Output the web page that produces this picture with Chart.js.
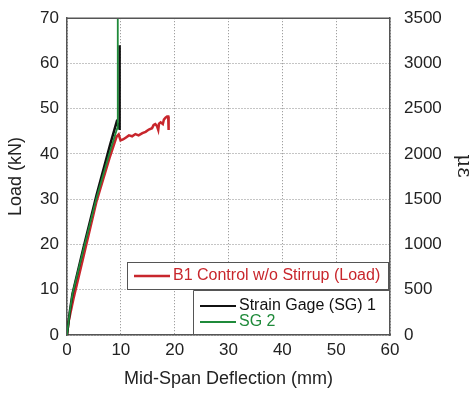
<!DOCTYPE html>
<html>
<head>
<meta charset="utf-8">
<script src="https://cdn.jsdelivr.net/npm/chart.js@4/dist/chart.umd.min.js"></script>
<style>
  html, body { margin: 0; padding: 0; background: #fff; }
  #wrap { width: 470px; height: 394px; }
</style>
</head>
<body>
<div id="wrap"><canvas id="c" width="470" height="394"></canvas></div>
<script>
// ===== data =====
const loadDefl = [0, 0.3, 1.2, 3.0, 5.5, 8.0, 9.2, 9.6, 9.95, 10.4, 10.9, 11.5, 12.1, 12.7, 13.3, 14.0, 14.6, 15.2, 15.8, 16.1, 16.4, 16.7, 16.95, 17.1, 17.4, 17.8, 18.0, 18.3, 18.6, 18.8, 18.9, 18.85];
const loadKN   = [0, 3.0, 8.0, 17.0, 29.6, 39.5, 43.8, 44.3, 43.0, 43.2, 43.6, 44.1, 43.9, 44.4, 44.1, 44.6, 44.9, 45.4, 45.7, 46.4, 46.6, 46.2, 45.3, 46.7, 47.0, 46.6, 47.6, 48.0, 48.3, 48.3, 45.3, 47.5];

const sg1Defl   = [0, 0.5, 1.0, 3.0, 5.5, 8.0, 9.2, 9.75, 9.75, 9.8];
const sg1Strain = [0, 250, 450, 950, 1550, 2100, 2350, 2280, 2800, 3200];

const sg2Defl   = [0, 0.5, 1.0, 3.0, 5.5, 8.0, 9.3, 9.4, 9.45, 9.45];
const sg2Strain = [0, 250, 450, 930, 1520, 2030, 2280, 2300, 2800, 3600];

const xTicks = [0, 10, 20, 30, 40, 50, 60];
const yTicks = [0, 10, 20, 30, 40, 50, 60, 70];
const y2Ticks = [0, 500, 1000, 1500, 2000, 2500, 3000, 3500];

const labels = ["B1 Control w/o Stirrup (Load)", "Strain Gage (SG) 1", "SG 2"];
const colors = { red: "#c8262c", black: "#111111", green: "#1f8a3a" };

const pts = (xs, ys) => xs.map((x, i) => ({ x: x, y: ys[i] }));
const FONT = "'Liberation Sans', Arial, sans-serif";

// ===== custom legends + right-axis label =====
const extras = {
  id: "extras",
  afterDraw(chart) {
    const ctx = chart.ctx;
    const a = chart.chartArea;
    ctx.save();
    // top frame line
    ctx.strokeStyle = "#555"; ctx.lineWidth = 1.5;
    ctx.beginPath(); ctx.moveTo(a.left, a.top); ctx.lineTo(a.right, a.top); ctx.stroke();

    ctx.font = "16px " + FONT;
    ctx.textBaseline = "middle";
    // box 1
    ctx.fillStyle = "#fff";
    ctx.fillRect(127, 262, 261, 27);
    ctx.strokeStyle = "#555"; ctx.lineWidth = 1;
    ctx.strokeRect(127.5, 262.5, 261, 27);
    ctx.strokeStyle = colors.red; ctx.lineWidth = 2.5;
    ctx.beginPath(); ctx.moveTo(134, 276); ctx.lineTo(170, 276); ctx.stroke();
    ctx.fillStyle = colors.red;
    ctx.fillText(labels[0], 173, 276);
    // box 2
    ctx.fillStyle = "#fff";
    ctx.fillRect(193, 290, 196, 44);
    ctx.strokeStyle = "#555"; ctx.lineWidth = 1;
    ctx.beginPath(); ctx.moveTo(193.5, 335); ctx.lineTo(193.5, 290.5); ctx.lineTo(389, 290.5); ctx.stroke();
    ctx.strokeStyle = colors.black; ctx.lineWidth = 2;
    ctx.beginPath(); ctx.moveTo(200, 306); ctx.lineTo(236, 306); ctx.stroke();
    ctx.fillStyle = colors.black;
    ctx.fillText(labels[1], 239, 306);
    ctx.strokeStyle = colors.green; ctx.lineWidth = 2;
    ctx.beginPath(); ctx.moveTo(200, 322); ctx.lineTo(236, 322); ctx.stroke();
    ctx.fillStyle = colors.green;
    ctx.fillText(labels[2], 239, 322);
    // right axis title (clipped at edge as in the source)
    ctx.translate(463, 166);
    ctx.rotate(Math.PI / 2);
    ctx.fillStyle = "#222";
    ctx.font = "20px 'DejaVu Serif', serif";
    ctx.textAlign = "center";
    ctx.fillText("με", 0, 0);
    ctx.restore();
  }
};

const tickFont = { family: FONT, size: 17 };
const titleFont = { family: FONT, size: 18 };

new Chart(document.getElementById("c"), {
  type: "scatter",
  data: {
    datasets: [
      { label: labels[2], data: pts(sg2Defl, sg2Strain), yAxisID: "y2", showLine: true,
        borderColor: colors.green, borderWidth: 1.8, pointRadius: 0, tension: 0 },
      { label: labels[1], data: pts(sg1Defl, sg1Strain), yAxisID: "y2", showLine: true,
        borderColor: colors.black, borderWidth: 2.5, pointRadius: 0, tension: 0 },
      { label: labels[0], data: pts(loadDefl, loadKN), yAxisID: "y", showLine: true,
        borderColor: colors.red, borderWidth: 2.5, pointRadius: 0, tension: 0 }
    ]
  },
  options: {
    responsive: false,
    animation: false,
    layout: { padding: { top: 16, left: 0, right: 0, bottom: 0 } },
    plugins: { legend: { display: false }, tooltip: { enabled: false } },
    scales: {
      x: {
        type: "linear", min: 0, max: 60,
        afterBuildTicks: s => { s.ticks = xTicks.map(v => ({ value: v })); },
        afterFit: s => { s.height = 59; },
        grid: { color: "#8a8a8a", lineWidth: 1, drawTicks: false },
        border: { display: true, color: "#555", width: 1.5, dash: [1, 2] },
        ticks: { color: "#222", font: tickFont, padding: 5, maxRotation: 0 },
        title: { display: true, text: "Mid-Span Deflection (mm)", color: "#222",
                 font: titleFont, padding: { top: 14 } }
      },
      y: {
        type: "linear", position: "left", min: 0, max: 70,
        afterBuildTicks: s => { s.ticks = yTicks.map(v => ({ value: v })); },
        afterFit: s => { s.width = 67; },
        grid: { color: "#8a8a8a", lineWidth: 1, drawTicks: false },
        border: { display: true, color: "#555", width: 1.5, dash: [1, 2] },
        ticks: { color: "#222", font: tickFont, padding: 8 },
        title: { display: true, text: "Load (kN)", color: "#222",
                 font: titleFont, padding: { top: 5, bottom: 2 } }
      },
      y2: {
        type: "linear", position: "right", min: 0, max: 3500,
        afterBuildTicks: s => { s.ticks = y2Ticks.map(v => ({ value: v })); },
        afterFit: s => { s.width = 80; },
        grid: { display: false },
        border: { display: true, color: "#555", width: 1.5 },
        ticks: { color: "#222", font: tickFont, padding: 6, callback: v => String(v) }
      }
    }
  },
  plugins: [extras]
});
</script>
</body>
</html>
